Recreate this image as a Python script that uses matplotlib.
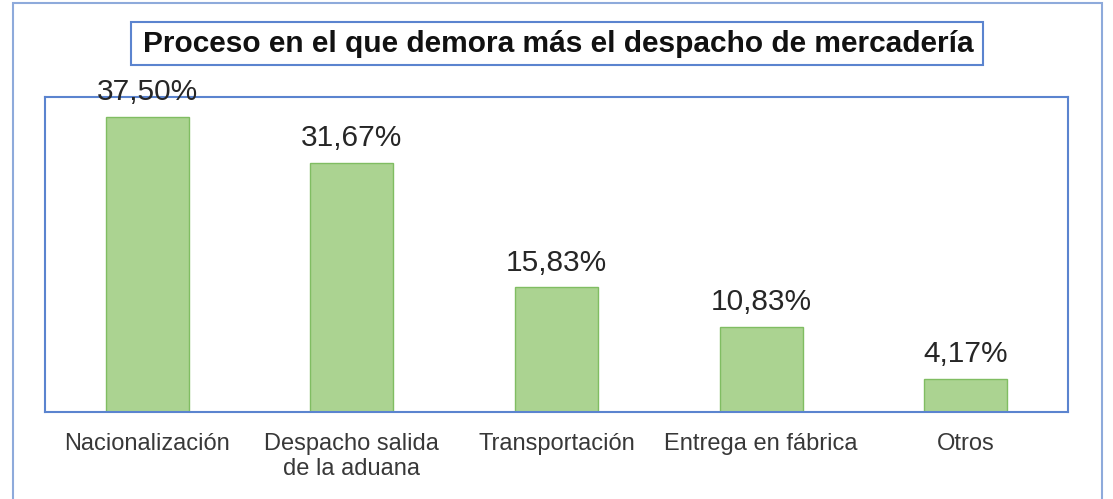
import matplotlib.pyplot as plt
from matplotlib.patches import Rectangle

# data
categories = ["Nacionalización", "Despacho salida\nde la aduana", "Transportación",
              "Entrega en fábrica", "Otros"]
values = [37.50, 31.67, 15.83, 10.83, 4.17]
labels = ["37,50%", "31,67%", "15,83%", "10,83%", "4,17%"]
title = "Proceso en el que demora más el despacho de mercadería"

plt.rcParams['font.family'] = ['Liberation Sans', 'DejaVu Sans']

W, H = 1113, 499
fig = plt.figure(figsize=(W / 100, H / 100), dpi=100)
fig.patch.set_facecolor("white")

# outer frame
fig.patches.append(Rectangle((13 / W, -0.02), 1089 / W, 1.02 - 3 / H, transform=fig.transFigure,
                             fill=False, edgecolor="#8eaadb", linewidth=1.5))

# title box
fig.patches.append(Rectangle((131 / W, 1 - 65 / H), 852 / W, 43 / H, transform=fig.transFigure,
                             fill=False, edgecolor="#5b84cf", linewidth=1.5))
fig.text(558 / W, 1 - 44 / H, title, ha="center", va="center",
         fontsize=21.5, fontweight="bold", color="#111111")

ax = fig.add_axes([45 / W, 1 - 412 / H, 1023 / W, 315 / H])
x = range(len(values))
bars = ax.bar(x, values, width=0.405, color="#abd391", edgecolor="#80bd62", linewidth=1)
ax.set_xlim(-0.5, len(values) - 0.5)
ax.set_ylim(0, 40)
ax.set_yticks([])
ax.set_xticks(list(x))
ax.set_xticklabels(categories, fontsize=17, color="#383838", linespacing=1.2)
ax.tick_params(axis="x", length=0, pad=15)
for s in ax.spines.values():
    s.set_color("#5b84cf")
    s.set_linewidth(1.5)

for b, lab in zip(bars, labels):
    ax.annotate(lab, (b.get_x() + b.get_width() / 2, b.get_height()),
                xytext=(0, 12), textcoords="offset points", ha="center", va="baseline",
                fontsize=21.5, color="#262626", annotation_clip=False)

fig.savefig("out.png", dpi=100)
